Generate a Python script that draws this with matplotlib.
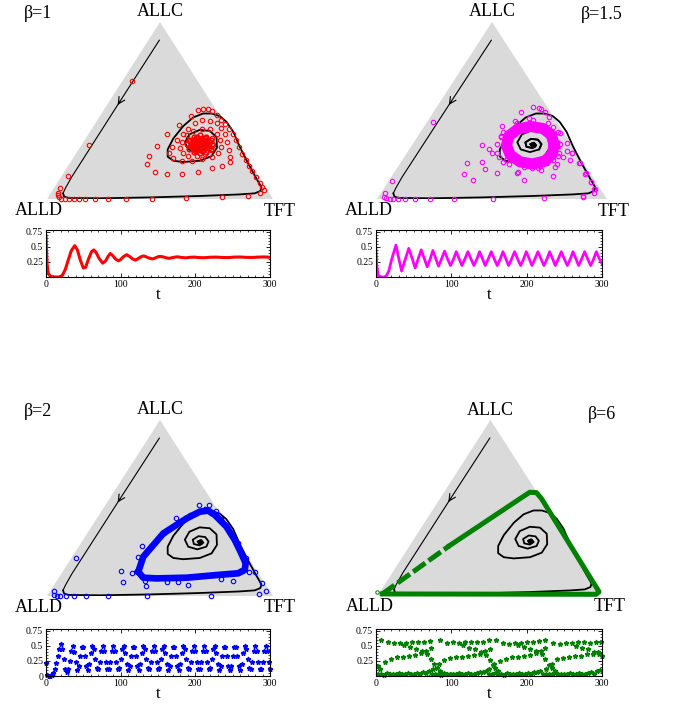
import matplotlib
matplotlib.use("Agg")
import matplotlib.pyplot as plt
from matplotlib.ticker import MultipleLocator

plt.rcParams['font.family'] = ['Liberation Serif', 'DejaVu Serif']

W, H = 682, 704

# ---------------------------------------------------------------- simplex data
# positions in the simplex plane: x = TFT + ALLC/2, y = ALLC share
traj_x = [0.497, 0.312, 0.176, 0.11, 0.081, 0.071, 0.076, 0.096, 0.235, 0.456,
          0.676, 0.853, 0.919, 0.944, 0.949, 0.926, 0.89, 0.853, 0.824, 0.794,
          0.765, 0.728, 0.691, 0.647, 0.603, 0.559, 0.534, 0.534, 0.559, 0.603,
          0.676, 0.728, 0.752, 0.75, 0.72, 0.675, 0.63, 0.61, 0.625, 0.665,
          0.705, 0.715, 0.70, 0.67, 0.645, 0.65, 0.675, 0.692, 0.682, 0.666,
          0.672, 0.677]
traj_y = [0.897, 0.53, 0.258, 0.126, 0.06, 0.032, 0.013, 0.006, 0.004, 0.009,
          0.017, 0.026, 0.032, 0.045, 0.066, 0.117, 0.201, 0.295, 0.38, 0.436,
          0.468, 0.483, 0.483, 0.461, 0.412, 0.342, 0.28, 0.239, 0.216, 0.209,
          0.216, 0.242, 0.29, 0.35, 0.385, 0.39, 0.365, 0.32, 0.28, 0.265,
          0.28, 0.31, 0.335, 0.34, 0.32, 0.295, 0.288, 0.303, 0.318, 0.31,
          0.302, 0.307]

# beta = 1 (red)
red_x = [0.375, 0.184, 0.093, 0.059, 0.047, 0.047, 0.051, 0.063, 0.081, 0.099,
         0.118, 0.140, 0.169, 0.213, 0.268, 0.35, 0.465, 0.615, 0.776, 0.891,
         0.941, 0.959, 0.951, 0.941, 0.926, 0.909, 0.894, 0.879, 0.865, 0.85,
         0.835, 0.821, 0.806, 0.788, 0.771, 0.75, 0.732, 0.713, 0.691, 0.669,
         0.635, 0.585, 0.532, 0.485, 0.451, 0.441, 0.478, 0.529, 0.596, 0.668,
         0.732, 0.776, 0.809, 0.809, 0.806, 0.797, 0.787, 0.772, 0.75, 0.721,
         0.688, 0.654, 0.625, 0.6, 0.574, 0.551, 0.541, 0.559, 0.596, 0.64,
         0.684, 0.728, 0.757, 0.768, 0.765, 0.75, 0.721, 0.684, 0.647, 0.618,
         0.596, 0.588, 0.6, 0.625, 0.662, 0.699, 0.724, 0.735, 0.728]
red_y = [0.665, 0.305, 0.132, 0.064, 0.036, 0.023, 0.009, 0.0, 0.0, 0.0,
         0.0, 0.0, 0.0, 0.0, 0.0, 0.0, 0.002, 0.006, 0.009, 0.017,
         0.032, 0.051, 0.07, 0.092, 0.126, 0.16, 0.188, 0.22, 0.254, 0.295,
         0.333, 0.367, 0.393, 0.421, 0.445, 0.474, 0.496, 0.508, 0.509, 0.502,
         0.47, 0.42, 0.367, 0.301, 0.244, 0.199, 0.15, 0.141, 0.143, 0.152,
         0.173, 0.188, 0.207, 0.239, 0.276, 0.323, 0.37, 0.402, 0.427, 0.442,
         0.445, 0.43, 0.398, 0.37, 0.333, 0.295, 0.258, 0.229, 0.216, 0.216,
         0.224, 0.239, 0.261, 0.295, 0.333, 0.37, 0.393, 0.398, 0.385, 0.361,
         0.323, 0.286, 0.258, 0.244, 0.243, 0.254, 0.276, 0.305, 0.342]
red_core_x = [0.731, 0.724, 0.704, 0.676, 0.649, 0.628, 0.621, 0.628, 0.649, 0.676,
              0.704, 0.724, 0.719, 0.698, 0.664, 0.634, 0.633, 0.654, 0.688, 0.717,
              0.711, 0.701, 0.676, 0.651, 0.641, 0.651, 0.676, 0.701, 0.694, 0.689,
              0.676, 0.663, 0.658, 0.663, 0.676, 0.689, 0.676, 0.70, 0.69, 0.672,
              0.655, 0.648, 0.656, 0.674, 0.693, 0.715, 0.708, 0.685, 0.66, 0.642,
              0.64, 0.661, 0.69, 0.668, 0.684]
red_core_y = [0.31, 0.335, 0.353, 0.36, 0.353, 0.335, 0.31, 0.285, 0.267, 0.26,
              0.267, 0.285, 0.32, 0.345, 0.349, 0.33, 0.299, 0.275, 0.271, 0.29,
              0.31, 0.331, 0.34, 0.331, 0.31, 0.289, 0.28, 0.289, 0.31, 0.321,
              0.325, 0.321, 0.31, 0.299, 0.295, 0.299, 0.31, 0.3, 0.33, 0.333,
              0.322, 0.305, 0.287, 0.283, 0.287, 0.303, 0.327, 0.342, 0.342, 0.32,
              0.296, 0.272, 0.276, 0.316, 0.306]

# beta = 1.5 (magenta)
mag_x = [0.244, 0.067, 0.033, 0.03, 0.041, 0.055, 0.07, 0.092, 0.121, 0.164,
         0.23, 0.334, 0.503, 0.727, 0.895, 0.945, 0.949, 0.93, 0.91, 0.884,
         0.847, 0.826, 0.767, 0.75, 0.712, 0.677, 0.626, 0.706, 0.73, 0.545,
         0.455, 0.488, 0.39, 0.378, 0.419, 0.47, 0.52, 0.639, 0.712, 0.764,
         0.781, 0.81, 0.828, 0.847, 0.88, 0.904, 0.929, 0.943, 0.897, 0.796,
         0.539, 0.499, 0.455, 0.549, 0.614, 0.673, 0.741, 0.52, 0.608, 0.775,
         0.84, 0.789]
mag_y = [0.436, 0.102, 0.036, 0.013, 0.004, 0.0, 0.0, 0.0, 0.0, 0.0,
         0.0, 0.0, 0.002, 0.006, 0.013, 0.032, 0.058, 0.098, 0.145, 0.201,
         0.261, 0.314, 0.404, 0.461, 0.511, 0.517, 0.493, 0.512, 0.49, 0.414,
         0.305, 0.282, 0.205, 0.141, 0.107, 0.169, 0.149, 0.107, 0.164, 0.132,
         0.196, 0.239, 0.271, 0.258, 0.201, 0.141, 0.094, 0.056, 0.017, 0.371,
         0.358, 0.258, 0.211, 0.211, 0.151, 0.177, 0.201, 0.258, 0.148, 0.182,
         0.22, 0.242]
mag_ring_x = [0.77, 0.758, 0.722, 0.668, 0.612, 0.572, 0.563, 0.58, 0.622, 0.675,
              0.728, 0.762, 0.77]
mag_ring_y = [0.305, 0.362, 0.398, 0.41, 0.395, 0.355, 0.30, 0.248, 0.21, 0.198,
              0.213, 0.252, 0.305]
mag_edge_x = [0.795, 0.785, 0.745, 0.68, 0.61, 0.55, 0.52, 0.53, 0.575, 0.64,
              0.71, 0.765, 0.79, 0.60, 0.54, 0.70, 0.66, 0.56]
mag_edge_y = [0.31, 0.38, 0.43, 0.447, 0.43, 0.38, 0.31, 0.24, 0.195, 0.18,
              0.185, 0.22, 0.26, 0.44, 0.35, 0.175, 0.455, 0.22]

# beta = 2 (blue)
blue_loop_x = [0.404, 0.426, 0.515, 0.618, 0.676, 0.713, 0.743, 0.794, 0.831, 0.86,
               0.879, 0.875, 0.846, 0.75, 0.618, 0.485, 0.426, 0.404]
blue_loop_y = [0.138, 0.223, 0.356, 0.441, 0.479, 0.485, 0.46, 0.394, 0.318, 0.242,
               0.186, 0.148, 0.129, 0.119, 0.104, 0.1, 0.104, 0.138]
blue_x = [0.129, 0.032, 0.029, 0.044, 0.059, 0.084, 0.118, 0.174, 0.268, 0.444,
          0.724, 0.938, 0.968, 0.95, 0.919, 0.894, 0.879, 0.846, 0.772, 0.747,
          0.718, 0.701, 0.671, 0.632, 0.571, 0.518, 0.422, 0.404, 0.375, 0.326,
          0.338, 0.435, 0.437, 0.529, 0.581, 0.625, 0.768, 0.824, 0.853]
blue_y = [0.214, 0.028, 0.006, 0.0, 0.0, 0.0, 0.0, 0.0, 0.0, 0.0,
          0.0, 0.011, 0.03, 0.076, 0.138, 0.138, 0.214, 0.299, 0.436, 0.483,
          0.517, 0.492, 0.517, 0.46, 0.445, 0.356, 0.284, 0.22, 0.129, 0.144,
          0.081, 0.085, 0.057, 0.081, 0.078, 0.062, 0.098, 0.087, 0.144]

# beta = 6 (green)
green_loop_x = [0.319, 0.674, 0.704, 0.726, 0.982, 0.97, 0.019]
green_loop_y = [0.283, 0.587, 0.585, 0.552, 0.019, 0.004, 0.006]
green_dash_x = [0.019, 0.319]
green_dash_y = [0.006, 0.283]

# ---------------------------------------------------------------- time series
red_t = [0, 0.7, 1.5, 3, 6, 12, 18, 22, 26, 30,
         34, 38.5, 42, 46, 50, 53, 57, 61, 64, 67,
         71, 76, 80, 83, 86, 89, 93, 97, 100, 104,
         108, 112, 116, 120, 124, 128, 131, 135, 139, 143,
         147, 151, 154, 158, 162, 165, 169, 173, 176, 181,
         187, 193, 199, 205, 212, 220, 228, 236, 244, 252,
         260, 268, 276, 284, 292, 300]
red_v = [0.68, 0.45, 0.2, 0.06, 0.01, 0.0, 0.0, 0.03, 0.13, 0.29,
         0.44, 0.52, 0.45, 0.28, 0.15, 0.16, 0.3, 0.42, 0.45, 0.41,
         0.31, 0.23, 0.27, 0.34, 0.39, 0.36, 0.3, 0.27, 0.29, 0.34,
         0.37, 0.34, 0.3, 0.28, 0.31, 0.34, 0.35, 0.33, 0.31, 0.3,
         0.32, 0.34, 0.34, 0.33, 0.315, 0.31, 0.32, 0.33, 0.335, 0.325,
         0.318, 0.327, 0.33, 0.322, 0.32, 0.328, 0.33, 0.324, 0.322, 0.33,
         0.332, 0.326, 0.324, 0.33, 0.333, 0.328]

mag_t = [0, 1, 3, 8, 13, 17, 21, 26.5, 30, 34,
         39, 43.5, 48, 52, 56, 60, 64, 68, 72, 75.5,
         79.5, 83, 87, 91, 95, 99, 103, 106.5, 110.5, 114,
         118, 122, 126, 130, 134, 137.5, 141.5, 145, 149, 153,
         157, 161, 165, 168.5, 172.5, 176, 180, 184, 188, 192,
         196, 199.5, 203.5, 207, 211, 215, 219, 223, 227, 230.5,
         234.5, 238, 242, 246, 250, 254, 258, 261.5, 265.5, 269,
         273, 277, 281, 285, 289, 292.5, 296.5, 300]
mag_v = [0.45, 0.2, 0.02, 0.0, 0.0, 0.1, 0.3, 0.53, 0.32, 0.1,
         0.3, 0.475, 0.31, 0.15, 0.3, 0.45, 0.31, 0.17, 0.3, 0.44,
         0.3, 0.18, 0.3, 0.43, 0.3, 0.19, 0.3, 0.42, 0.3, 0.19,
         0.3, 0.42, 0.3, 0.19, 0.3, 0.42, 0.3, 0.19, 0.3, 0.42,
         0.3, 0.19, 0.3, 0.42, 0.3, 0.19, 0.3, 0.42, 0.3, 0.19,
         0.3, 0.42, 0.3, 0.19, 0.3, 0.42, 0.3, 0.19, 0.3, 0.42,
         0.3, 0.19, 0.3, 0.42, 0.3, 0.19, 0.3, 0.42, 0.3, 0.19,
         0.3, 0.42, 0.3, 0.19, 0.3, 0.42, 0.3, 0.22]

blue_t = list(range(0, 301, 2))
blue_v = [0.22, 0.02, 0.0, 0.0, 0.01, 0.05, 0.12, 0.22, 0.33, 0.44,
          0.53, 0.45, 0.28, 0.12, 0.07, 0.12, 0.25, 0.42, 0.49, 0.4,
          0.24, 0.1, 0.16, 0.33, 0.48, 0.48, 0.33, 0.16, 0.1, 0.2,
          0.38, 0.495, 0.45, 0.29, 0.14, 0.11, 0.24, 0.42, 0.5, 0.42,
          0.24, 0.11, 0.11, 0.24, 0.42, 0.5, 0.42, 0.24, 0.11, 0.14,
          0.29, 0.45, 0.495, 0.38, 0.2, 0.1, 0.16, 0.33, 0.48, 0.48,
          0.33, 0.16, 0.1, 0.2, 0.38, 0.495, 0.45, 0.29, 0.14, 0.11,
          0.24, 0.42, 0.5, 0.42, 0.24, 0.11, 0.14, 0.29, 0.45, 0.495,
          0.38, 0.2, 0.1, 0.16, 0.33, 0.48, 0.48, 0.33, 0.16, 0.1,
          0.2, 0.38, 0.495, 0.45, 0.29, 0.14, 0.11, 0.24, 0.42, 0.5,
          0.42, 0.24, 0.11, 0.11, 0.24, 0.42, 0.5, 0.42, 0.24, 0.11,
          0.14, 0.29, 0.45, 0.495, 0.38, 0.2, 0.1, 0.16, 0.33, 0.48,
          0.48, 0.33, 0.16, 0.1, 0.16, 0.33, 0.48, 0.48, 0.33, 0.16,
          0.1, 0.2, 0.38, 0.495, 0.45, 0.29, 0.14, 0.11, 0.24, 0.42,
          0.5, 0.42, 0.24, 0.11, 0.11, 0.24, 0.42, 0.5, 0.42, 0.24,
          0.11]

green_low_t = list(range(2, 300, 4))
green_low_v = [.03, .04, .02, .05, .03, .04, .03, .05, .04, .03,
               .05, .04, .03, .05, .04, .06, .05, .08, .04, .03,
               .04, .02, .05, .03, .04, .04, .03, .05, .04, .03,
               .05, .03, .04, .05, .06, .07, .09, .04, .03, .05,
               .03, .04, .02, .05, .04, .03, .04, .05, .03, .04,
               .05, .04, .06, .07, .09, .04, .03, .04, .03, .05,
               .03, .04, .03, .04, .05, .03, .04, .05, .04, .03,
               .05, .06, .04, .08, .10]
green_high_t = [7, 16, 24, 32, 40, 48, 56, 64, 72,
                85, 94, 102, 110, 118, 126, 134, 142, 150,
                159, 168, 176, 184, 192, 200, 208, 216, 224,
                235, 244, 252, 260, 268, 276, 284, 292, 299]
green_high_v = [.60, .57, .55, .54, .55, .56, .56, .57, .58,
                .59, .55, .56, .55, .56, .57, .56, .57, .59,
                .60, .54, .53, .55, .55, .56, .56, .58, .59,
                .55, .53, .55, .55, .56, .56, .55, .56, .57]
green_rise_t = [12, 20, 28, 36, 44, 52, 60, 67, 73, 76, 83,
                90, 98, 106, 114, 122, 130, 138, 145, 151, 150, 157,
                164, 172, 180, 188, 196, 204, 212, 219, 225, 226, 233,
                240, 248, 256, 264, 272, 280, 288, 295]
green_rise_v = [.24, .29, .31, .32, .33, .35, .38, .42, .46, .12, .20,
                .27, .30, .31, .32, .33, .35, .37, .41, .45, .12, .20,
                .25, .29, .31, .32, .34, .35, .38, .42, .46, .12, .20,
                .28, .30, .31, .33, .34, .36, .37, .40]
green_desc_t = [2, 5, 37, 45, 53, 61, 68, 73, 77, 81, 85,
                115, 123, 131, 139, 146, 151, 155, 158, 162,
                189, 197, 205, 213, 220, 225, 230, 233, 237,
                265, 273, 281, 289, 296, 300]
green_desc_v = [.16, .12, .52, .48, .45, .41, .36, .28, .20, .14, .09,
                .51, .47, .44, .40, .35, .27, .19, .13, .08,
                .52, .48, .44, .41, .36, .28, .18, .13, .08,
                .50, .47, .45, .40, .37, .33]


def px_axes(l, t, r, b):
    return fig.add_axes([l / W, 1 - b / H, (r - l) / W, (b - t) / H])


def simplex(ax, beta_txt, beta_xy, dot=True):
    ax.fill([0, 1, 0.5], [0, 0, 1], color="#dadada", lw=0, zorder=0)
    ax.set_xlim(0, 1)
    ax.set_ylim(0, 1)
    ax.axis("off")
    ax.plot(traj_x[:6], traj_y[:6], color="black", lw=0.8, zorder=2)
    ax.plot(traj_x[5:], traj_y[5:], color="black", lw=1.3, zorder=2)
    ax.annotate("", xy=(0.306, 0.518), xytext=(0.33, 0.566),
                arrowprops=dict(arrowstyle="->", lw=0.8, color="black",
                                mutation_scale=12), zorder=3)
    if dot:
        ax.plot(traj_x[-1], traj_y[-1], "o", color="black", ms=3, zorder=2)
    kw = dict(fontsize=13, ha="center", va="center", clip_on=False)
    ax.text(0.5, 1.057, "ALLC", transform=ax.transAxes, **kw)
    ax.text(-0.035, -0.063, "ALLD", transform=ax.transAxes, **kw)
    ax.text(1.03, -0.068, "TFT", transform=ax.transAxes, **kw)
    ax.text(beta_xy[0], beta_xy[1], beta_txt, transform=ax.transAxes, **kw)


def series_axes(ax, yticks):
    ax.set_xlim(0, 300)
    ax.set_ylim(0, 0.78)
    ax.set_xticks([0, 100, 200, 300])
    ax.set_yticks(yticks)
    ax.set_yticklabels([("%g" % v) for v in yticks])
    ax.xaxis.set_minor_locator(MultipleLocator(10))
    ax.yaxis.set_minor_locator(MultipleLocator(0.05))
    ax.tick_params(which="both", direction="in", top=True, right=True,
                   labelsize=7, pad=2)
    ax.tick_params(which="major", length=3, width=0.6)
    ax.tick_params(which="minor", length=1.5, width=0.5)
    for s in ax.spines.values():
        s.set_linewidth(0.8)
    ax.set_xlabel("t", fontsize=12, labelpad=-1)


fig = plt.figure(figsize=(W / 100, H / 100), dpi=100)

# beta = 1
ax = px_axes(47, 22, 273, 199)
simplex(ax, "β=1", (-0.04, 1.05), dot=False)
ax.plot(red_x, red_y, "o", mfc="none", mec="red", ms=3.2, mew=0.8,
        clip_on=False, zorder=4)
ax.plot(red_core_x, red_core_y, "o", mfc="none", mec="red", ms=3.4, mew=1.1,
        clip_on=False, zorder=4)
ts = px_axes(46, 230, 270, 277)
ts.plot(red_t, red_v, color="red", lw=2.2)
series_axes(ts, [0.25, 0.5, 0.75])

# beta = 1.5
ax = px_axes(377, 22, 607, 199)
simplex(ax, "β=1.5", (0.978, 1.04))
ax.plot(mag_ring_x, mag_ring_y, color="#ff00ff", lw=8, solid_joinstyle="round",
        zorder=3)
ax.plot(traj_x[40:], traj_y[40:], color="black", lw=1.3, zorder=3.5)
ax.plot(traj_x[-1], traj_y[-1], "o", color="black", ms=3, zorder=3.5)
ax.plot(mag_edge_x, mag_edge_y, "o", mfc="none", mec="#ff00ff", ms=3.2, mew=0.8,
        clip_on=False, zorder=4)
ax.plot(mag_x, mag_y, "o", mfc="none", mec="#ff00ff", ms=3.2, mew=0.8,
        clip_on=False, zorder=4)
ts = px_axes(376, 230, 602, 277)
ts.plot(mag_t, mag_v, color="#ff00ff", lw=2.0)
series_axes(ts, [0.25, 0.5, 0.75])

# beta = 2
ax = px_axes(47, 420, 273, 596)
simplex(ax, "β=2", (-0.04, 1.05))
ax.plot(blue_loop_x, blue_loop_y, color="blue", lw=4.8, solid_joinstyle="round",
        zorder=3)
ax.plot(blue_x, blue_y, "o", mfc="none", mec="blue", ms=3.2, mew=0.8,
        clip_on=False, zorder=4)
ts = px_axes(46, 629, 270, 676)
ts.plot(blue_t, blue_v, "*", color="blue", ms=3.5, clip_on=False)
series_axes(ts, [0, 0.25, 0.5, 0.75])

# beta = 6
ax = px_axes(378, 420, 603, 595)
simplex(ax, "β=6", (0.996, 1.034))
ax.plot(green_loop_x, green_loop_y, color="green", lw=3.6,
        solid_joinstyle="round", clip_on=False, zorder=3)
ax.plot(green_dash_x, green_dash_y, color="green", lw=3.6, ls=(0, (3, 0.8)),
        clip_on=False, zorder=3)
ax.plot([-0.004], [0.019], "o", mfc="none", mec="green", ms=2.5, mew=0.7,
        clip_on=False, zorder=4)
ts = px_axes(376, 629, 602, 676)
for gt, gv in [(green_low_t, green_low_v), (green_high_t, green_high_v),
               (green_rise_t, green_rise_v), (green_desc_t, green_desc_v)]:
    ts.plot(gt, gv, "*", color="green", ms=3.5, clip_on=False)
series_axes(ts, [0.25, 0.5, 0.75])

fig.savefig("out.png", dpi=100)
